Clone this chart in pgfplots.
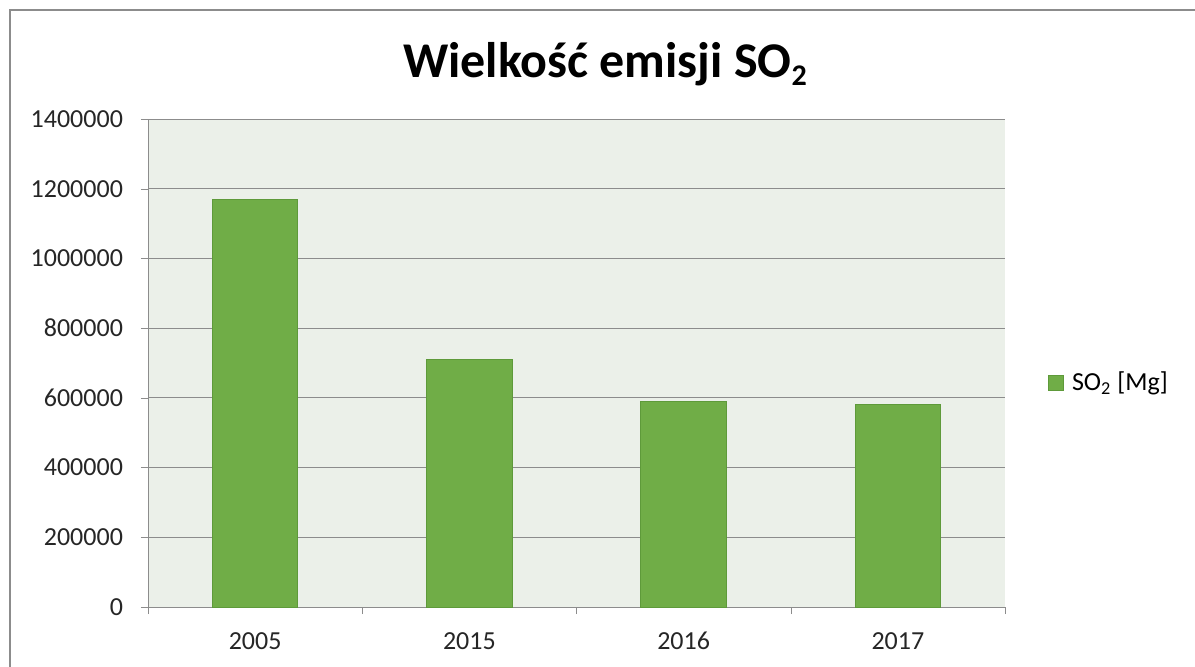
\documentclass[border=0pt]{standalone}
\usepackage{pgfplots}
\pgfplotsset{compat=1.18}
\usepackage{fontspec}
\setmainfont{Carlito}
\definecolor{barfill}{HTML}{70AD47}
\definecolor{barline}{HTML}{5E9A3A}
\definecolor{plotbg}{HTML}{EBF0E9}
\definecolor{gridc}{HTML}{8C8C8C}
\definecolor{framec}{HTML}{8C8C8C}
\begin{document}
\begin{tikzpicture}
\useasboundingbox (-74pt,-29.5pt) rectangle (523.5pt,303.5pt);
\fill[white] (-74pt,-29.5pt) rectangle (523.5pt,303.5pt);
\draw[framec,line width=0.6pt] (-69pt,-40pt) -- (-69pt,298.5pt) -- (540pt,298.5pt);
\begin{axis}[
  at={(0,0)}, anchor=south west,
  scale only axis,
  width=428.5pt, height=244pt,
  xmin=-0.5, xmax=3.5,
  ymin=0, ymax=1400000,
  ytick={0,200000,...,1400000},
  scaled y ticks=false,
  /pgf/number format/assume math mode=true,
  yticklabel={\pgfmathprintnumber[fixed,1000 sep={}]{\tick}},
  xtick={0,1,2,3},
  xticklabels={2005,2015,2016,2017},
  minor xtick={-0.5,0.5,1.5,2.5,3.5},
  major x tick style={draw=none},
  minor x tick style={gridc},
  y tick style={gridc},
  tick align=outside,
  major tick length=3.5pt,
  minor tick length=3.5pt,
  axis x line*=bottom,
  axis y line*=left,
  axis line style={gridc,-},
  ymajorgrids,
  grid style={gridc,line width=0.5pt},
  axis background/.style={fill=plotbg},
  ticklabel style={font=\fontsize{13}{15}\selectfont, text=black!85},
  yticklabel style={xshift=-5.5pt},
  xticklabel style={yshift=-5pt, text height=9pt, text depth=0pt},
  legend style={at={(1.05,0.459)}, anchor=west, draw=none, fill=none,
    font=\fontsize{13}{15}\selectfont, inner sep=0pt,
    /tikz/every even column/.append style={column sep=0pt}},
  legend image code/.code={\fill[barfill,draw=barline] (0pt,-3.6pt) rectangle (7.4pt,3.6pt);},
]
\addplot[ybar, bar width=0.4, fill=barfill, draw=barline, line width=0.5pt]
  coordinates {(0,1170000) (1,710000) (2,590000) (3,581000)};
\addlegendentry{\hspace{2pt}SO\textsubscript{2} [Mg]}
\end{axis}
\node[anchor=base, font=\fontsize{25}{29}\selectfont\bfseries] at (228.5pt,265pt) {Wielkość emisji SO\raisebox{-4pt}{\fontsize{15}{17}\selectfont 2}};
\end{tikzpicture}
\end{document}
